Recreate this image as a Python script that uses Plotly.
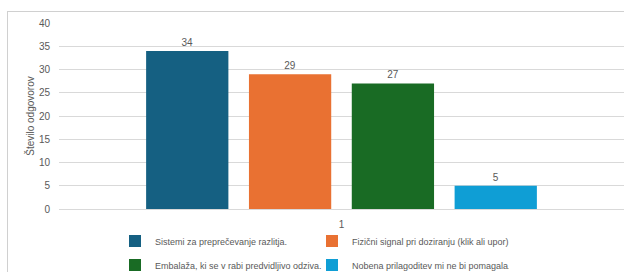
import plotly.graph_objects as go

categories = ["1"]
series_names = [
    "Sistemi za preprečevanje razlitja.",
    "Fizični signal pri doziranju (klik ali upor).",
    "Embalaža, ki se v rabi predvidljivo odziva.",
    "Nobena prilagoditev mi ne bi pomagala.",
]
series_values = [34, 29, 27, 5]
series_colors = ["#156082", "#E97132", "#196B24", "#0F9ED5"]
legend_ids = ["legend", "legend", "legend2", "legend2"]
y_ticks = [0, 5, 10, 15, 20, 25, 30, 35, 40]
y_title = "Število odgovorov"

FONT = "Liberation Sans"
GREY = "#595959"

fig = go.Figure()
for name, val, col, lg in zip(series_names, series_values, series_colors, legend_ids):
    fig.add_trace(go.Bar(
        x=categories, y=[val], name=name,
        marker=dict(color=col, line=dict(width=0)),
        text=[str(val)], textposition="outside",
        textfont=dict(family=FONT, size=10, color=GREY),
        cliponaxis=False, legend=lg,
    ))

W, H = 624, 272
L, R, T, B = 59, 0, 23, 63
pw = W - L - R
ph = H - T - B

def px_x(p):
    return (p - L) / pw

def px_y(p):
    return (H - B - p) / ph

leg_common = dict(orientation="h", xanchor="left", yanchor="middle",
                  xref="container", yref="container",
                  font=dict(family=FONT, size=9, color=GREY), entrywidth=152, entrywidthmode="pixels",
                  bgcolor="rgba(0,0,0,0)")

fig.update_layout(
    width=W, height=H,
    margin=dict(l=L, r=R, t=T, b=B),
    paper_bgcolor="white", plot_bgcolor="white",
    barmode="group", bargap=0.272, bargroupgap=0.2,
    font=dict(family=FONT, size=9, color=GREY),
    showlegend=True,
    legend=dict(x=115 / W, y=1 - 241 / H, **leg_common),
    legend2=dict(x=115 / W, y=1 - 265 / H, **leg_common),
    xaxis=dict(type="category", showgrid=False, showline=False, ticks="", automargin=False,
               tickfont=dict(family=FONT, size=10, color=GREY), ticklabelstandoff=8),
    yaxis=dict(range=[0, 40], tickvals=y_ticks, showgrid=True, gridcolor="#D9D9D9", gridwidth=1,
               zeroline=True, zerolinecolor="#D9D9D9", zerolinewidth=1, showline=False, ticks="",
               automargin=False,
               tickfont=dict(family=FONT, size=10, color=GREY), ticklabelstandoff=8,
               title=dict(text=y_title, font=dict(family=FONT, size=10, color=GREY), standoff=2)),
    shapes=[
        dict(type="rect", xref="paper", yref="paper", layer="above",
             x0=px_x(7.5), x1=px_x(W + 5), y0=px_y(11.5), y1=px_y(H + 5),
             line=dict(color="#D0D0D0", width=1), fillcolor="rgba(0,0,0,0)"),
    ],
    annotations=[
        dict(xref="paper", yref="paper", x=px_x(7), y=px_y(11), xanchor="left", yanchor="top",
             text=" ", showarrow=False, width=660, height=300, borderpad=0,
             bordercolor="#D0D0D0", borderwidth=1, bgcolor="rgba(0,0,0,0)"),
    ],
)

fig.write_html("out.html", config={"displayModeBar": False},
               post_script="document.body.style.margin='0';")
